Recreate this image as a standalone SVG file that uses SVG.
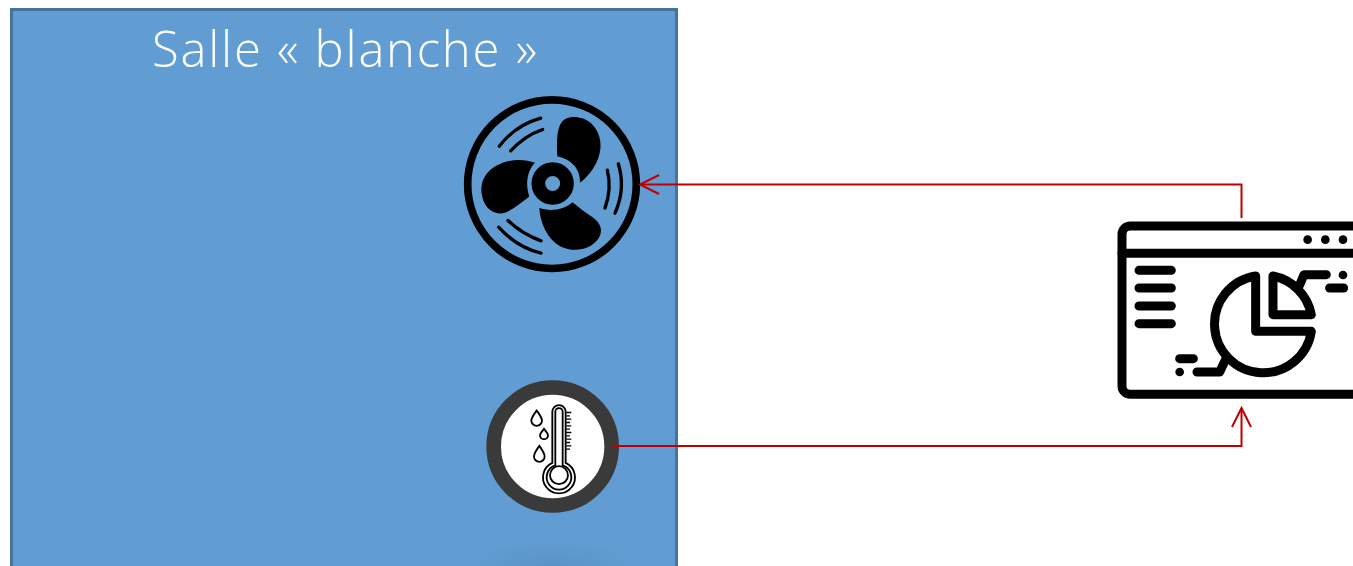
<svg xmlns="http://www.w3.org/2000/svg" width="1353" height="566" viewBox="0 0 1353 566">
<style>
.title{font-family:"Open Sans","Lato","Liberation Sans",sans-serif;font-weight:300;font-size:49px;fill:#fff}
.conn{fill:none;stroke:#c00000;stroke-width:2}
.arc{fill:none;stroke:#000;stroke-width:10;stroke-linecap:round}
.th{fill:none;stroke:#000;stroke-width:5.500}
.db{fill:none;stroke:#000;stroke-width:27;stroke-linecap:round;stroke-linejoin:round}
</style>
<defs>
<marker id="open" markerUnits="userSpaceOnUse" markerWidth="24" markerHeight="26" refX="21" refY="12" orient="auto-start-reverse" viewBox="0 0 24 24">
<path d="M2,2.500 L21,12 L2,21.500" fill="none" stroke="#c00000" stroke-width="2"/>
</marker>
<radialGradient id="shade"><stop offset="0" stop-color="#3f6f9c" stop-opacity=".22"/><stop offset="1" stop-color="#3f6f9c" stop-opacity="0"/></radialGradient>
</defs>
<rect width="1353" height="566" fill="#fff"/>
<g id="salle">
<rect x="11.500" y="9.500" width="665" height="570" fill="#619dd2" stroke="#45749f" stroke-width="3"/>
<ellipse cx="552" cy="566" rx="80" ry="26" fill="url(#shade)"/>
<text class="title" x="152" y="67" textLength="385" lengthAdjust="spacing">Salle « blanche »</text>
</g>
<g id="fan" transform="translate(450 85.500) scale(.3333)">
<circle cx="306" cy="296" r="253" fill="none" stroke="#000" stroke-width="23"/>
<path d="M322,212 C320,170 320,130 335,110 C350,90 395,88 425,115 C455,145 460,190 440,230 C425,260 405,280 390,292 C392,250 365,222 322,212 Z"/>
<path d="M255,232 C225,220 180,218 140,240 C105,260 90,290 95,325 C100,365 130,392 165,382 C190,372 215,350 238,333 C225,295 232,255 255,232 Z"/>
<path d="M268,367 C270,410 290,460 330,482 C370,502 420,495 445,460 C465,430 445,405 420,390 C400,378 385,362 367,350 C345,372 300,380 268,367 Z"/>
<circle cx="308" cy="294" r="43" fill="none" stroke="#000" stroke-width="41"/>
<path class="arc" d="M148,182 Q195,120 272,98"/>
<path class="arc" d="M182,196 Q225,150 278,132"/>
<path class="arc" d="M505,235 Q528,310 495,383"/>
<path class="arc" d="M472,254 Q486,310 465,368"/>
<path class="arc" d="M146,425 Q200,485 273,503"/>
<path class="arc" d="M174,405 Q215,445 273,466"/>
</g>
<g id="sensor" transform="translate(470 370.500) scale(.3333)">
<circle cx="248" cy="228" r="177" fill="#fff" stroke="#3a3a3a" stroke-width="44"/>
<path class="th" d="M247,277 V124 A20,20 0 0 1 287,124 V277 A48,48 0 1 1 247,277 Z"/>
<path class="th" d="M256,285 V124 A11,11 0 0 1 278,124 V285 A37,37 0 1 1 256,285 Z"/>
<circle class="th" cx="267" cy="314" r="27"/>
<path d="M289,126 H304 M289,136 H300 M289,146 H304 M289,156 H300 M289,166 H304 M289,176 H300 M289,186 H304 M289,196 H300 M289,206 H304 M289,216 H300 M289,226 H304 M289,236 H300" fill="none" stroke="#000" stroke-width="4"/>
<path class="th" d="M200,120 C190,134 184,142 184,150 A16,16 0 0 0 216,150 C216,142 210,134 200,120 Z"/>
<path class="th" d="M222,175 C214,185 210,190 210,194 A12,12 0 0 0 234,194 C234,190 230,185 222,175 Z"/>
<path class="th" d="M208,226 C198,240 192,248 192,258 A16,16 0 0 0 224,258 C224,248 218,240 208,226 Z"/>
</g>
<g id="dashboard" transform="translate(1103 170) scale(.3333)">
<path class="db" d="M790,168 H82 A25,25 0 0 0 57,193 V648 A25,25 0 0 0 82,673 H790"/>
<path class="db" d="M57,250 H790"/>
<circle cx="614" cy="209" r="13"/><circle cx="667" cy="209" r="13"/><circle cx="720" cy="209" r="13"/>
<path class="db" d="M108,301 H205 M108,354 H205 M108,408 H205 M108,461 H205"/>
<path class="db" d="M458,318 V484 H625 A146,146 0 1 1 458,318 Z"/>
<path class="db" d="M510,318 A146,146 0 0 1 625,434 H510 Z"/>
<path class="db" d="M590,345 L603,314 H670"/>
<circle cx="720" cy="315" r="13"/>
<path class="db" d="M680,354 H722"/>
<path class="db" d="M230,566 H271"/>
<circle cx="230" cy="606" r="13"/>
<path class="db" d="M282,606 H350 L368,568"/>
</g>
<g id="connectors">
<path class="conn" d="M1241.500,218 V184.500 H640" marker-end="url(#open)"/>
<path class="conn" d="M612,446 H1241.500 V408" marker-end="url(#open)"/>
</g>
</svg>
